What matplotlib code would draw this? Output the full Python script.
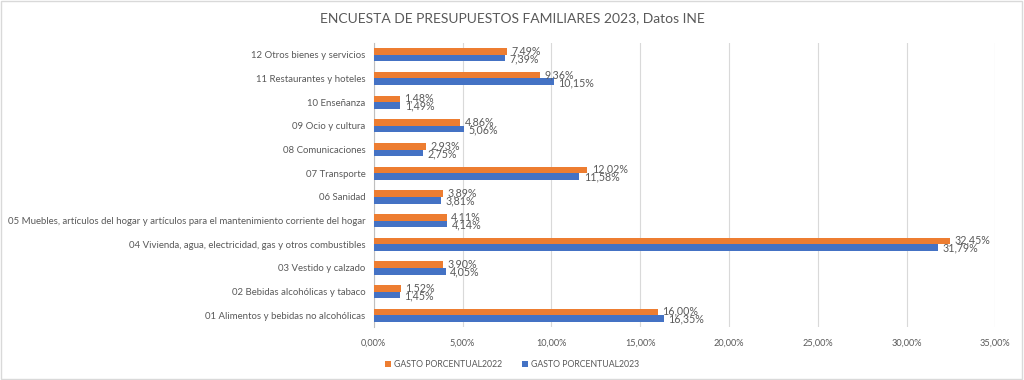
import matplotlib
matplotlib.use("Agg")
import matplotlib.pyplot as plt
import numpy as np
from matplotlib.patches import Rectangle
from matplotlib.ticker import FuncFormatter

categories = [
    "01 Alimentos y bebidas no alcohólicas",
    "02 Bebidas alcohólicas y tabaco",
    "03 Vestido y calzado",
    "04 Vivienda, agua, electricidad, gas y otros combustibles",
    "05 Muebles, artículos del hogar y artículos para el mantenimiento corriente del hogar",
    "06 Sanidad",
    "07 Transporte",
    "08 Comunicaciones",
    "09 Ocio y cultura",
    "10 Enseñanza",
    "11 Restaurantes y hoteles",
    "12 Otros bienes y servicios",
]
gasto_2022 = [16.00, 1.52, 3.90, 32.45, 4.11, 3.89, 12.02, 2.93, 4.86, 1.48, 9.36, 7.49]
gasto_2023 = [16.35, 1.45, 4.05, 31.79, 4.14, 3.81, 11.58, 2.75, 5.06, 1.49, 10.15, 7.39]
xticks = [0, 5, 10, 15, 20, 25, 30, 35]

ORANGE = "#ED7D31"
BLUE = "#4472C4"
GREY = "#595959"

plt.rcParams["font.family"] = ["Lato", "DejaVu Sans"]

fig = plt.figure(figsize=(10.24, 3.8), dpi=100)
ax = fig.add_axes([0.365, 0.139, 0.607, 0.748])

y = np.arange(len(categories))
h = 0.28
ax.barh(y + h / 2, gasto_2022, height=h, color=ORANGE, label="GASTO PORCENTUAL2022", zorder=3)
ax.barh(y - h / 2, gasto_2023, height=h, color=BLUE, label="GASTO PORCENTUAL2023", zorder=3)

def pct(v):
    return f"{v:.2f}%".replace(".", ",")

# data labels: orange one nudged up, blue one nudged down (they overlap a bit, as in the source)
for yi, a, b in zip(y, gasto_2022, gasto_2023):
    ax.text(a + 0.25, yi + h / 2 + 0.03, pct(a), va="center", ha="left", fontsize=7.7, color=GREY, zorder=4)
    ax.text(b + 0.25, yi - h / 2 - 0.03, pct(b), va="center", ha="left", fontsize=7.7, color=GREY, zorder=4)

ax.set_xlim(0, 35)
ax.set_ylim(-0.5, len(categories) - 0.5)
ax.set_xticks(xticks)
ax.xaxis.set_major_formatter(FuncFormatter(lambda v, _: pct(v)))
ax.set_yticks(y)
ax.set_yticklabels(categories)
ax.tick_params(axis="y", labelsize=6.9, colors=GREY, length=0, pad=6)
ax.tick_params(axis="x", labelsize=6.6, colors=GREY, length=0, pad=8)
ax.grid(axis="x", color="#D9D9D9", linewidth=0.8, zorder=0)
for s in ["top", "right", "bottom"]:
    ax.spines[s].set_visible(False)
ax.spines["left"].set_color("#BFBFBF")

fig.text(0.5, 0.952, "ENCUESTA DE PRESUPUESTOS FAMILIARES 2023, Datos INE",
         ha="center", va="center", fontsize=10, color=GREY)

fig.legend(loc="center", bbox_to_anchor=(0.5, 0.04), ncol=2, frameon=False,
           fontsize=6.3, labelcolor=GREY, handlelength=0.7, handleheight=0.7,
           columnspacing=2.2, handletextpad=0.4)

fig.add_artist(Rectangle((0.001, 0.002), 0.997, 0.995, transform=fig.transFigure,
                         fill=False, edgecolor="#D9D9D9", linewidth=1))

fig.savefig("out.png", dpi=100)
